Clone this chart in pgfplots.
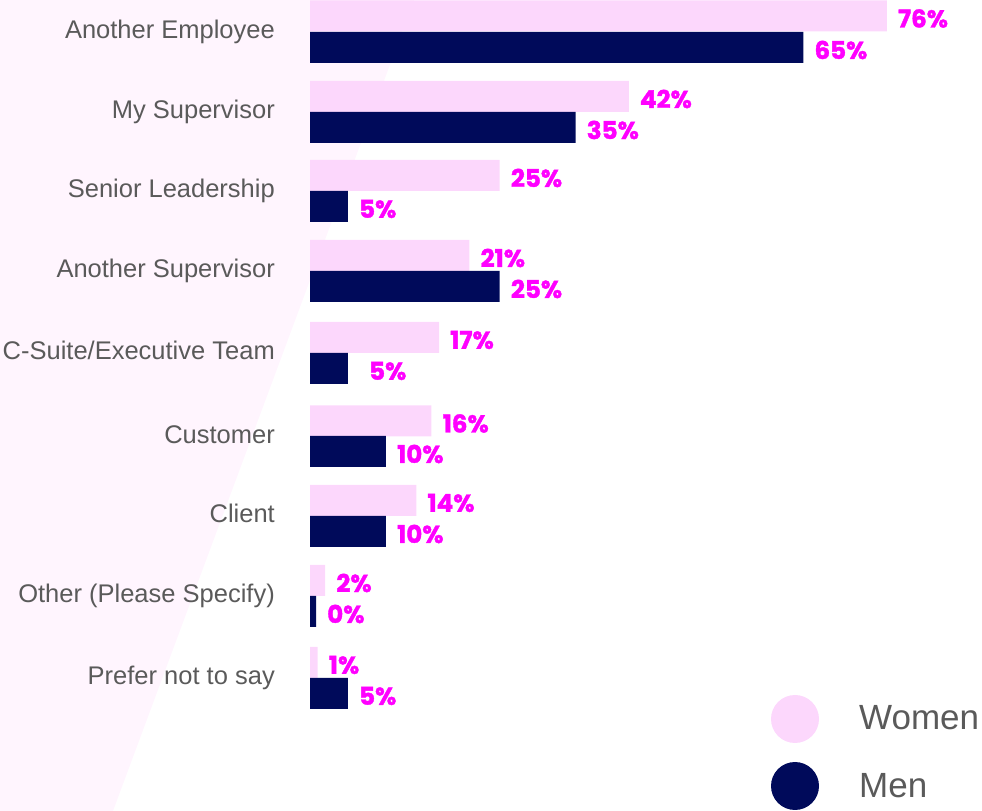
\documentclass[border=0pt]{standalone}
\usepackage{pgfplots}
\pgfplotsset{compat=1.18}
\usepackage{fontspec}
\setmainfont{Liberation Sans}
\newfontfamily\valfont[BoldFeatures={FakeBold=1.5}]{Poppins}
\definecolor{women}{HTML}{FCD7FC}
\definecolor{men}{HTML}{000A5A}
\definecolor{lbl}{HTML}{FF00FF}
\definecolor{txt}{HTML}{5A5A5A}
\definecolor{bg}{HTML}{FFF5FE}

\begin{document}
\begin{tikzpicture}
% page is 982 x 811 bp, one bp per reference pixel
\useasboundingbox (0bp,0bp) rectangle (982bp,811bp);
\fill[bg] (0bp,811bp) -- (414bp,811bp) -- (113bp,0bp) -- (0bp,0bp) -- cycle;

\begin{axis}[
    at={(310bp,0bp)}, anchor=south west,
    width=672bp, height=811bp, scale only axis,
    xmin=0, xmax=88.54,
    ymin=-811, ymax=0,
    xbar, bar width=31bp, bar shift=0pt,
    axis line style={draw=none},
    major tick length=0pt,
    xtick=\empty,
    ytick={-32,-112,-191,-271,-353,-437,-516,-596,-678},
    yticklabels={Another Employee, My Supervisor, Senior Leadership,
        Another Supervisor, C-Suite/Executive Team, Customer, Client,
        Other (Please Specify), Prefer not to say},
    yticklabel style={anchor=base east, inner sep=0pt, xshift=-35bp, yshift=-7bp,
        text=txt, font=\fontsize{25.5bp}{30bp}\selectfont},
    clip=false,
    point meta=explicit symbolic,
    nodes near coords,
    nodes near coords style={anchor=west, inner sep=0pt, xshift=11bp, yshift=-2.5bp,
        text=lbl, font=\valfont\bfseries\fontsize{24.5bp}{26bp}\selectfont},
]
% Women
\addplot[fill=women, draw=none] coordinates {
    (76,-16)[76\%]
    (42,-96.5)[42\%]
    (25,-175.5)[25\%]
    (21,-255.5)[21\%]
    (17,-337.5)[17\%]
    (16,-421)[16\%]
    (14,-500.5)[14\%]
    (2,-580.5)[2\%]
    (1,-662.5)[1\%]
};
% Men
\addplot[fill=men, draw=none] coordinates {
    (65,-47.5)[65\%]
    (35,-127.5)[35\%]
    (5,-206.5)[5\%]
    (25,-286.5)[25\%]
    (5,-368.5)[\hspace{10bp}5\%]
    (10,-451.5)[10\%]
    (10,-531.5)[10\%]
    (0.8,-611.5)[0\%]
    (5,-693.5)[5\%]
};
\end{axis}

% legend
\fill[women] (795bp,92bp) circle (24bp);
\fill[men] (795bp,25bp) circle (24bp);
\node[anchor=base west, inner sep=0pt, text=txt, font=\fontsize{35bp}{40bp}\selectfont]
    at (859bp,81bp) {Women};
\node[anchor=base west, inner sep=0pt, text=txt, font=\fontsize{35bp}{40bp}\selectfont]
    at (859bp,14bp) {Men};
\end{tikzpicture}
\end{document}
